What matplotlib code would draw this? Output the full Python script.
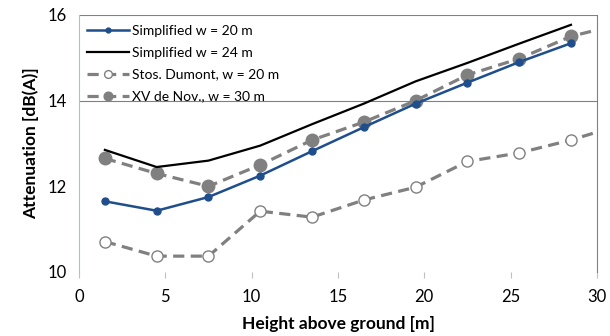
import matplotlib
matplotlib.use("Agg")
import matplotlib.pyplot as plt

# heights above ground [m]
heights = [1.5, 4.5, 7.5, 10.5, 13.5, 16.5, 19.5, 22.5, 25.5, 28.5]
heights_ext = heights + [31.5]

simplified_20 = [11.65, 11.43, 11.75, 12.25, 12.82, 13.38, 13.93, 14.42, 14.9, 15.34]
simplified_24 = [12.85, 12.45, 12.6, 12.95, 13.45, 13.93, 14.45, 14.88, 15.33, 15.77]
stos_dumont = [10.71, 10.37, 10.37, 11.42, 11.28, 11.68, 11.98, 12.58, 12.78, 13.08, 13.45]
xv_nov = [12.65, 12.3, 12.0, 12.5, 13.08, 13.5, 14.0, 14.6, 14.98, 15.5, 15.8]

plt.rcParams['font.family'] = ['Lato', 'DejaVu Sans']

fig = plt.figure(figsize=(6.1, 3.36), dpi=100)
ax = fig.add_axes([0.1295, 0.1905, 0.849, 0.765])

ax.plot(heights, simplified_20, color="#1f4e8c", linewidth=1.8, marker="o",
        markersize=5, label="Simplified w = 20 m", zorder=4)
ax.plot(heights, simplified_24, color="black", linewidth=1.6,
        label="Simplified w = 24 m", zorder=3)
ax.plot(heights_ext, stos_dumont, color="#808080", linewidth=2.3, linestyle=(0, (3.5, 2)),
        marker="o", markersize=8, markerfacecolor="white", markeredgecolor="#808080",
        markeredgewidth=1.0, label="Stos. Dumont, w = 20 m", zorder=2)
ax.plot(heights_ext, xv_nov, color="#808080", linewidth=2.3, linestyle=(0, (3.5, 2)),
        marker="o", markersize=9, label="XV de Nov., w = 30 m", zorder=2)

ax.set_xlim(0, 30)
ax.set_ylim(10, 16)
ax.set_xticks(range(0, 31, 5))
ax.set_yticks([10, 12, 14, 16])
ax.axhline(14, color="#808080", linewidth=0.8, zorder=1)
ax.axhline(16, color="#808080", linewidth=0.8, zorder=1)

for s in ["top", "bottom"]:
    ax.spines[s].set_visible(False)
ax.spines["left"].set_color("#a9bfe0")
ax.spines["right"].set_color("#808080")
ax.tick_params(axis="y", length=0, labelsize=12, pad=9)
ax.tick_params(axis="x", length=4, color="#c0c0c0", labelsize=12, direction="out", pad=8)

ax.set_xlabel("Height above ground [m]", fontsize=12.5, fontweight="bold", labelpad=8)
ax.set_ylabel("Attenuation [dB(A)]", fontsize=12.5, fontweight="bold", labelpad=6)

ax.legend(loc="upper left", frameon=False, fontsize=10, handlelength=3.0,
          handletextpad=0.2, borderaxespad=0.2, labelspacing=0.72, markerscale=0.7,
          bbox_to_anchor=(0.0, 0.995))

fig.savefig("out.png", dpi=100)
